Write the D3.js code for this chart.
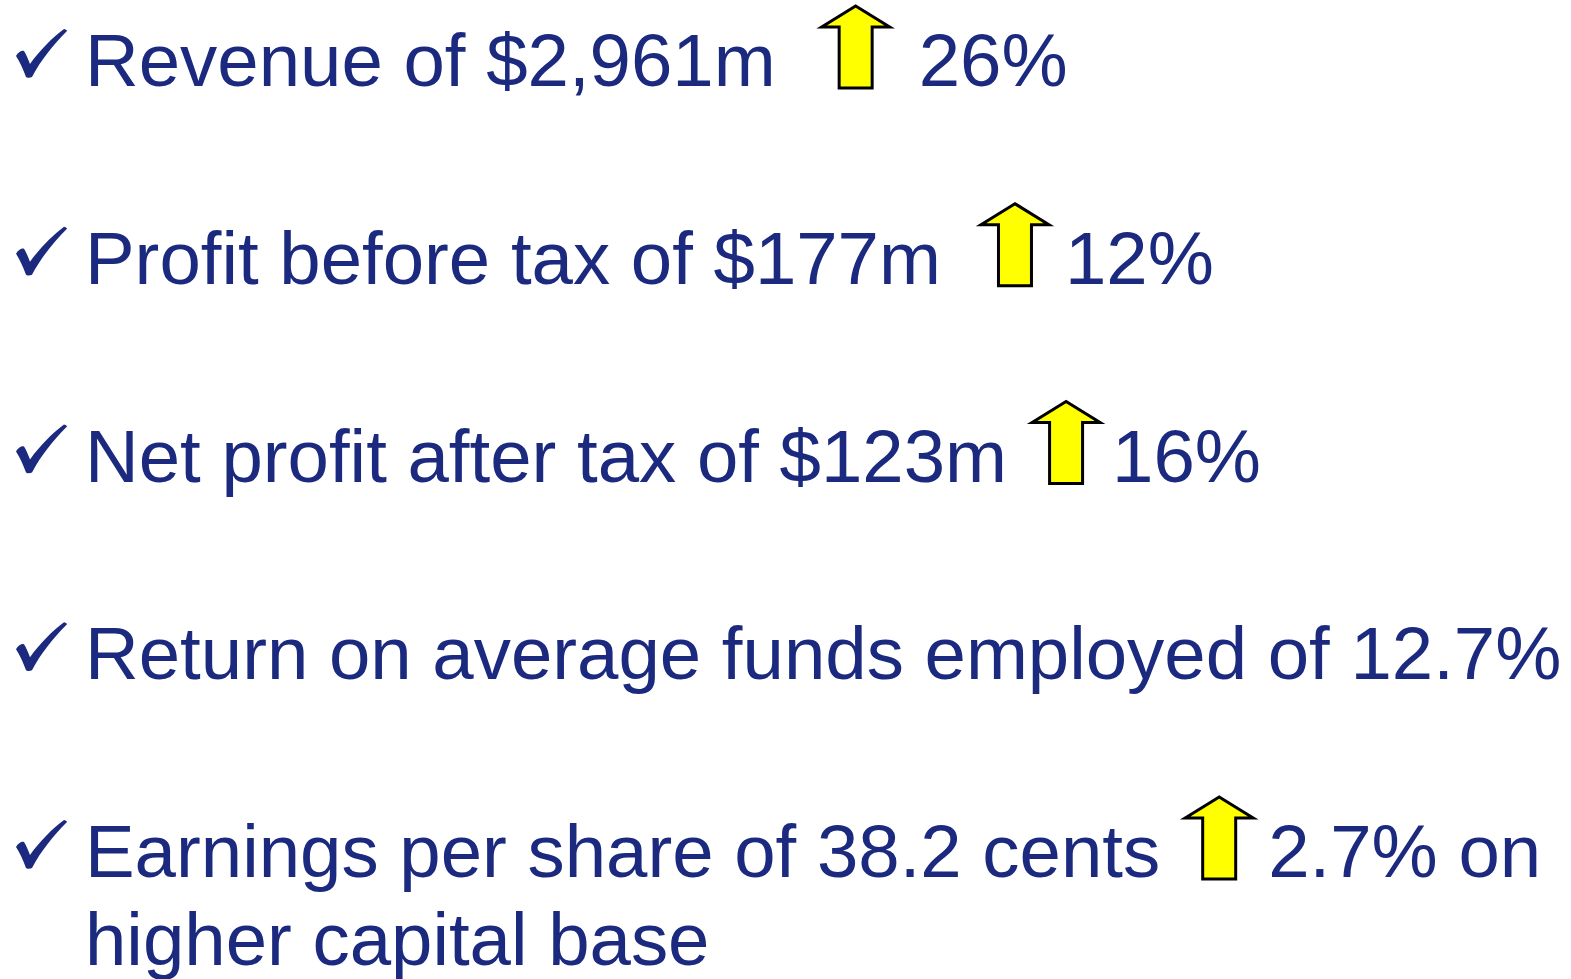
<!DOCTYPE html>
<html><head><meta charset="utf-8">
<script src="https://cdn.jsdelivr.net/npm/d3@7"></script>
<style>html,body{margin:0;padding:0;background:#fff;overflow:hidden}</style>
</head><body>
<svg id="c" width="1571" height="979"></svg>
<script>
// ---- data ----
const statements = ["Revenue of $2,961m", "Profit before tax of $177m", "Net profit after tax of $123m", "Return on average funds employed of 12.7%", "Earnings per share of 38.2 cents"];
const changes = ["26%", "12%", "16%", null, "2.7% on"];
const continuations = [null, null, null, null, "higher capital base"];
const hasArrow = [true, true, true, false, true];

// ---- layout ----
const textColor = "#1b2a7f";
const fontSize = 74.4;
const textX = 85;
const gapBefore = [46, 40, 25, 0, 25];
const gapAfter = [29, 16, 12, 0, 15];
const wrapLead = 88;
const arrowW = 68;

const svg = d3.select("#c");
const y = d3.scaleLinear().domain([0, statements.length - 1]).range([86, 877]);

const g = svg.selectAll("g.item").data(statements).join("g").attr("class", "item")
  .attr("transform", (d, i) => `translate(0,${y(i)})`);

// check mark
const check = "M16,-30 C18,-34 22,-36 24,-35 C26,-32 28,-27 30,-22 C40,-36 52,-48 64,-57 C65,-57 67,-56 67,-55 C53,-41 41,-26 32,-9 C30,-8 27,-8 26,-9 C23,-17 20,-24 16,-30 Z";
g.append("path").attr("d", check).attr("fill", textColor);

g.append("text")
  .attr("x", textX).attr("y", 0)
  .attr("font-family", "'Liberation Sans', Arial, sans-serif")
  .attr("font-size", fontSize).attr("fill", textColor)
  .text(d => d);

// arrow shape: width 68, height 82, shaft 33, head 21
const arrowPath = "M0,-59 L34,-80 L68,-59 L50.5,-59 L50.5,2 L17.5,2 L17.5,-59 Z";

g.each(function(d, i) {
  const sel = d3.select(this);
  const w = sel.select("text").node().getComputedTextLength();
  let x = textX + w;
  if (hasArrow[i]) {
    const ax = x + gapBefore[i];
    sel.append("path").attr("d", arrowPath)
      .attr("transform", `translate(${ax},0)`)
      .attr("fill", "#ffff00").attr("stroke", "#000").attr("stroke-width", 3)
      .attr("stroke-linejoin", "miter");
    x = ax + arrowW + gapAfter[i];
  }
  if (changes[i]) {
    sel.append("text").attr("x", x).attr("y", 0)
      .attr("font-family", "'Liberation Sans', Arial, sans-serif")
      .attr("font-size", fontSize).attr("fill", textColor)
      .text(changes[i]);
  }
  if (continuations[i]) {
    sel.append("text").attr("x", textX).attr("y", wrapLead)
      .attr("font-family", "'Liberation Sans', Arial, sans-serif")
      .attr("font-size", fontSize).attr("fill", textColor)
      .text(continuations[i]);
  }
});
</script>
</body></html>
